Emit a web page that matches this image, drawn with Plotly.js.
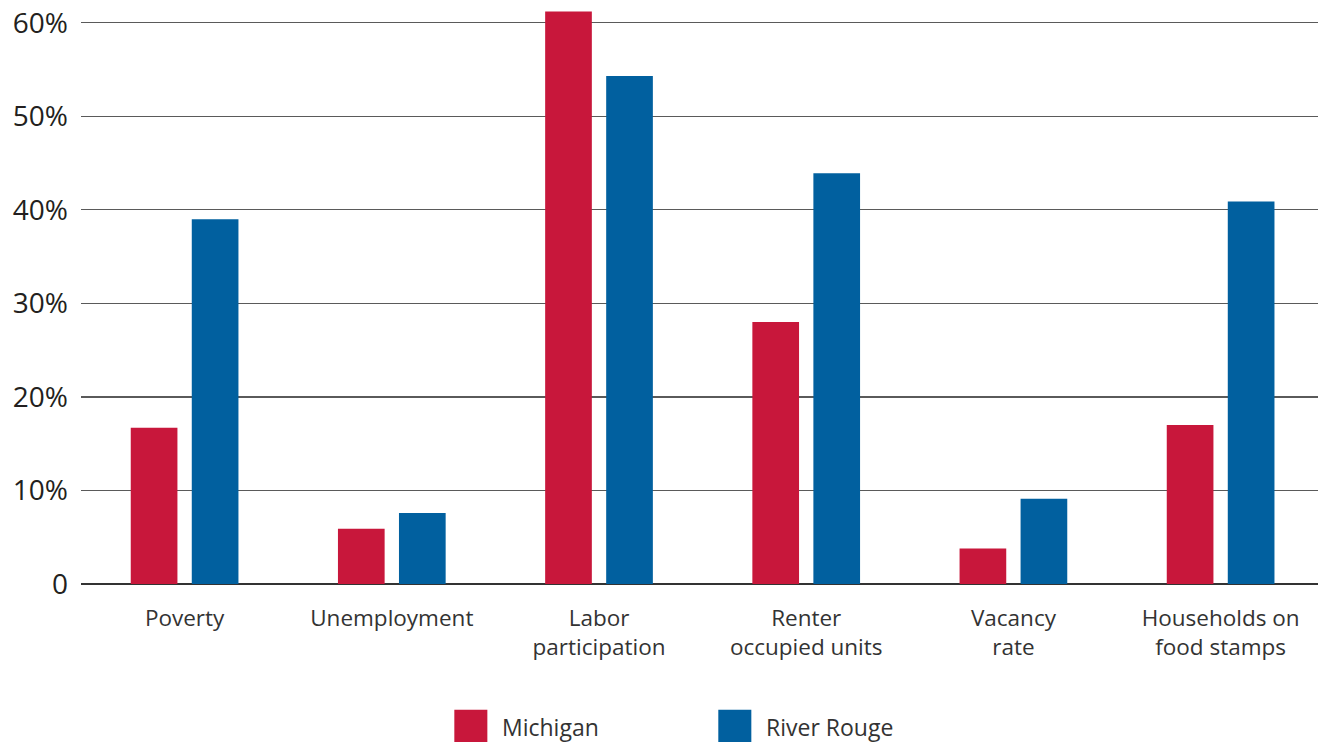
<!DOCTYPE html>
<html>
<head>
<meta charset="utf-8">
<script src="https://cdn.plot.ly/plotly-3.0.1.min.js"></script>
<style>html,body{margin:0;padding:0;background:#fff;}#chart{width:1318px;height:742px;}</style>
</head>
<body>
<div id="chart"></div>
<script>
const categories = ["Poverty", "Unemployment", "Labor<br>participation", "Renter<br>occupied units", "Vacancy<br>rate", "Households on<br>food stamps"];
const michigan = [16.7, 5.9, 61.2, 28.0, 3.8, 17.0];
const riverRouge = [39.0, 7.6, 54.3, 43.9, 9.1, 40.9];
const yTickVals = [0, 10, 20, 30, 40, 50, 60];
const yTickText = ["0", "10%", "20%", "30%", "40%", "50%", "60%"];
const seriesNames = ["Michigan", "River Rouge"];
const seriesColors = ["#c8173b", "#01609f"];

const font = "Open Sans, Noto Sans, sans-serif";

const traces = [
  {type: "bar", name: seriesNames[0], x: categories, y: michigan, marker: {color: seriesColors[0]}, hoverinfo: "y"},
  {type: "bar", name: seriesNames[1], x: categories, y: riverRouge, marker: {color: seriesColors[1]}, hoverinfo: "y"}
];

// legend swatches drawn as paper shapes + annotations
const legendX = [0.3018, 0.5152];   // swatch left (paper)
const swW = 0.0267;
const legY0 = -0.217, legY1 = -0.275;
const shapes = seriesNames.map((n, i) => ({
  type: "rect", xref: "paper", yref: "paper",
  x0: legendX[i], x1: legendX[i] + swW, y0: legY1, y1: legY0,
  fillcolor: seriesColors[i], line: {width: 0}
}));
const annotations = seriesNames.map((n, i) => ({
  xref: "paper", yref: "paper", x: legendX[i] + swW + 0.0105, y: -0.246,
  xanchor: "left", yanchor: "middle", text: n, showarrow: false,
  font: {family: font, size: 23, color: "#333"}
}));

const layout = {
  width: 1318, height: 742,
  margin: {l: 80.5, r: 0, t: 4, b: 158, pad: 0},
  paper_bgcolor: "#fff", plot_bgcolor: "#fff",
  barmode: "group", bargap: 0.411, bargroupgap: 0.235,
  showlegend: false,
  font: {family: font, color: "#333"},
  xaxis: {
    range: [-0.5, 5.47], showgrid: false, showline: false, ticks: "",
    tickfont: {family: font, size: 22.5, color: "#333"},
    ticklabelstandoff: 18, fixedrange: true
  },
  yaxis: {
    range: [0, 62], tickvals: yTickVals, ticktext: yTickText,
    showgrid: true, gridcolor: "#5a5a5a", gridwidth: 1.3,
    zeroline: true, zerolinecolor: "#333", zerolinewidth: 1.6,
    showline: false, ticks: "", ticklabelstandoff: 12,
    tickfont: {family: font, size: 28, color: "#231f20"}, fixedrange: true
  },
  shapes: shapes,
  annotations: annotations
};

Plotly.newPlot("chart", traces, layout, {displayModeBar: false, staticPlot: true});
</script>
</body>
</html>
